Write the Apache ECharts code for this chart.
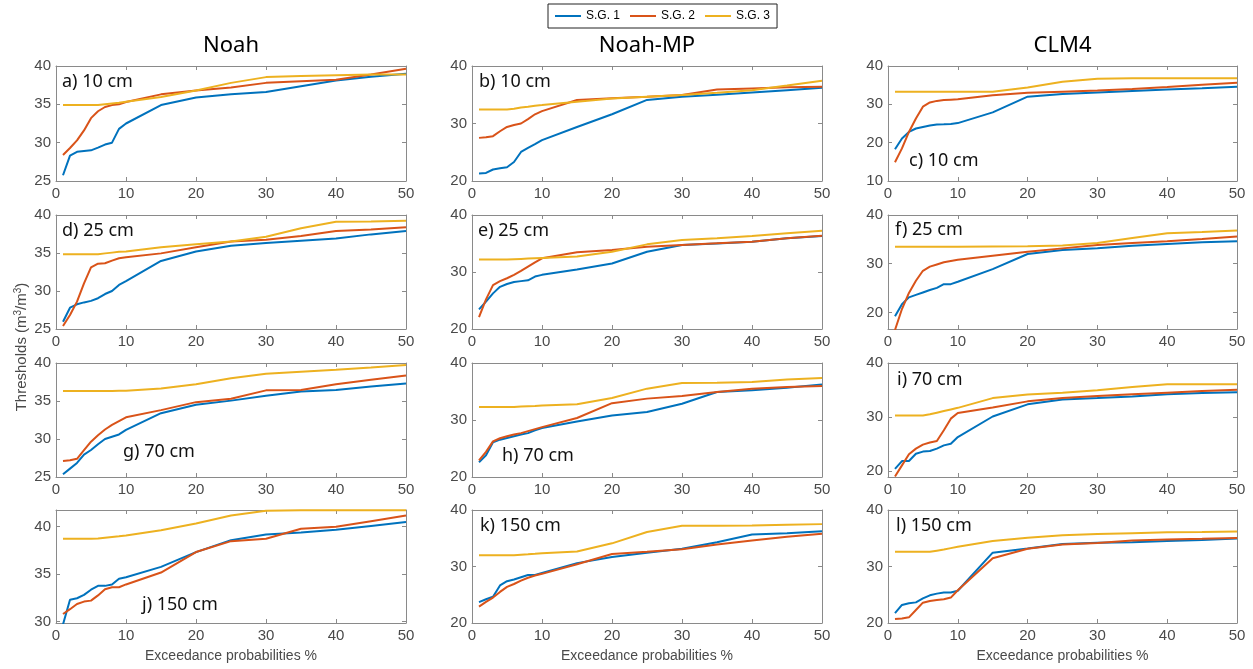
<!DOCTYPE html>
<html><head><meta charset="utf-8">
<script src="https://cdn.jsdelivr.net/npm/echarts@6/dist/echarts.min.js"></script>
<style>html,body{margin:0;padding:0;background:#fff}#c{width:1253px;height:669px}</style>
</head><body><div id="c"></div>
<script>
const xs = [1,2,3,4,5,6,7,8,9,10,15,20,25,30,35,40,45,50];
const seriesNames = ['S.G. 1','S.G. 2','S.G. 3'];
const models = ['Noah','Noah-MP','CLM4'];
const panelLabels = ['a) 10 cm','b) 10 cm','c) 10 cm','d) 25 cm','e) 25 cm','f) 25 cm','g) 70 cm','h) 70 cm','i) 70 cm','j) 150 cm','k) 150 cm','l) 150 cm'];
const xTicks = [0,10,20,30,40,50];
const yMins = [25,20,10, 25,20,16.6, 25,20,18.9, 29.85,20,20];
const yMaxs = [40,40,40, 40,40,40, 40,40,40, 41.72,40,40];
const yTicks = [[25,30,35,40],[20,30,40],[10,20,30,40],[25,30,35,40],[20,30,40],[20,30,40],[25,30,35,40],[20,30,40],[20,30,40],[30,35,40],[20,30,40],[20,30,40]];

// a) Noah 10 cm
const a_sg1 = [25.75,28.3,28.8,28.9,29.0,29.35,29.75,30.0,31.8,32.5,34.9,35.9,36.3,36.6,37.35,38.1,38.6,39.0];
const a_sg2 = [28.4,29.3,30.3,31.6,33.2,34.1,34.65,34.9,35.0,35.3,36.3,36.8,37.2,37.8,38.0,38.2,38.9,39.65];
const a_sg3 = [34.9,34.9,34.9,34.9,34.9,34.9,35.0,35.1,35.2,35.35,35.95,36.8,37.8,38.55,38.7,38.8,38.9,38.9];
// b) Noah-MP 10 cm
const b_sg1 = [21.3,21.4,22.0,22.2,22.4,23.3,25.05,25.75,26.4,27.1,29.4,31.6,34.1,34.65,35.0,35.4,35.8,36.2];
const b_sg2 = [27.5,27.6,27.8,28.65,29.4,29.75,30.0,30.75,31.6,32.15,34.1,34.4,34.65,34.95,35.9,36.1,36.3,36.4];
const b_sg3 = [32.45,32.45,32.45,32.45,32.45,32.55,32.8,32.9,33.1,33.2,33.8,34.35,34.65,34.95,35.35,35.8,36.6,37.45];
// c) CLM4 10 cm
const c_sg1 = [18.3,21.1,22.8,23.7,24.1,24.5,24.75,24.8,24.9,25.1,27.9,32.0,32.7,33.1,33.5,33.9,34.2,34.6];
const c_sg2 = [14.9,18.5,22.8,26.3,29.4,30.5,30.9,31.1,31.2,31.3,32.4,33.0,33.3,33.6,34.0,34.5,35.1,35.6];
const c_sg3 = [33.3,33.3,33.3,33.3,33.3,33.3,33.3,33.3,33.3,33.3,33.3,34.4,35.9,36.7,36.8,36.8,36.8,36.8];
// d) Noah 25 cm
const d_sg1 = [25.96,27.8,28.25,28.5,28.7,29.05,29.6,30.0,30.8,31.3,33.95,35.2,35.95,36.3,36.6,36.9,37.45,37.9];
const d_sg2 = [25.4,26.85,28.6,31.0,33.1,33.6,33.65,34.0,34.3,34.45,34.95,35.75,36.5,36.75,37.25,37.9,38.1,38.4];
const d_sg3 = [34.85,34.85,34.85,34.85,34.85,34.85,34.95,35.05,35.15,35.2,35.75,36.15,36.5,37.15,38.25,39.1,39.15,39.25];
// e) Noah-MP 25 cm
const e_sg1 = [23.45,24.8,26.25,27.4,27.9,28.25,28.4,28.55,29.2,29.5,30.45,31.5,33.55,34.75,35.0,35.3,35.9,36.3];
const e_sg2 = [22.1,25.2,27.7,28.4,28.9,29.5,30.2,30.95,31.7,32.4,33.45,33.85,34.45,34.75,35.05,35.3,35.9,36.35];
const e_sg3 = [32.2,32.2,32.2,32.2,32.2,32.25,32.3,32.35,32.4,32.45,32.7,33.55,34.85,35.6,35.9,36.3,36.8,37.25];
// f) CLM4 25 cm
const f_sg1 = [19.2,21.7,23.1,23.6,24.1,24.6,25.05,25.8,25.8,26.3,28.9,32.0,32.8,33.15,33.7,34.05,34.4,34.6];
const f_sg2 = [16.4,20.7,24.0,26.5,28.55,29.4,29.85,30.3,30.55,30.8,31.65,32.45,33.15,33.85,34.25,34.6,35.05,35.6];
const f_sg3 = [33.5,33.5,33.5,33.5,33.5,33.5,33.5,33.5,33.5,33.5,33.55,33.6,33.75,34.25,35.3,36.25,36.5,36.8];
// g) Noah 70 cm
const g_sg1 = [25.35,26.1,26.85,27.95,28.55,29.3,30.0,30.3,30.6,31.2,33.4,34.5,35.05,35.7,36.25,36.45,36.9,37.3];
const g_sg2 = [27.1,27.2,27.4,28.55,29.65,30.5,31.25,31.85,32.35,32.85,33.8,34.85,35.3,36.4,36.45,37.2,37.8,38.35];
const g_sg3 = [36.3,36.3,36.3,36.3,36.3,36.3,36.3,36.32,36.34,36.36,36.65,37.2,38.0,38.6,38.85,39.1,39.4,39.75];
// h) Noah-MP 70 cm
const h_sg1 = [22.6,23.8,26.1,26.55,26.85,27.15,27.45,27.7,28.2,28.6,29.75,30.8,31.4,32.85,34.9,35.2,35.65,36.25];
const h_sg2 = [22.9,24.4,26.25,26.8,27.15,27.45,27.7,28.05,28.4,28.75,30.35,32.95,33.75,34.2,34.9,35.5,35.8,35.95];
const h_sg3 = [32.3,32.3,32.3,32.3,32.3,32.3,32.35,32.4,32.45,32.55,32.75,33.85,35.5,36.5,36.55,36.65,37.1,37.35];
// i) CLM4 70 cm
const i_sg1 = [20.4,21.85,21.85,23.2,23.6,23.7,24.15,24.75,25.05,26.3,30.1,32.35,33.25,33.5,33.8,34.2,34.45,34.6];
const i_sg2 = [19.0,21.05,23.1,24.15,24.9,25.3,25.55,27.55,29.7,30.75,31.75,32.9,33.5,33.9,34.2,34.5,34.8,35.05];
const i_sg3 = [30.3,30.3,30.3,30.3,30.3,30.5,30.8,31.1,31.4,31.7,33.5,34.15,34.5,34.95,35.55,36.05,36.05,36.05];
// j) Noah 150 cm
const j_sg1 = [29.7,32.3,32.45,32.8,33.35,33.75,33.75,33.9,34.5,34.65,35.75,37.3,38.55,39.15,39.35,39.65,40.05,40.45];
const j_sg2 = [30.8,31.3,31.85,32.1,32.2,32.75,33.4,33.6,33.6,33.9,35.15,37.3,38.45,38.7,39.75,39.95,40.55,41.15];
const j_sg3 = [38.7,38.7,38.7,38.7,38.7,38.72,38.8,38.88,38.96,39.05,39.6,40.3,41.15,41.65,41.7,41.7,41.7,41.7];
// k) Noah-MP 150 cm
const k_sg1 = [23.7,24.2,24.65,26.65,27.4,27.7,28.1,28.5,28.5,28.85,30.6,31.7,32.45,33.15,34.3,35.65,35.9,36.25];
const k_sg2 = [22.9,23.75,24.5,25.5,26.4,26.9,27.5,28.0,28.4,28.7,30.4,32.2,32.6,33.05,33.9,34.6,35.25,35.8];
const k_sg3 = [32.0,32.0,32.0,32.0,32.0,32.0,32.08,32.16,32.25,32.35,32.65,34.1,36.1,37.2,37.2,37.25,37.4,37.5];
// l) CLM4 150 cm
const l_sg1 = [21.75,23.2,23.5,23.65,24.35,24.9,25.2,25.4,25.4,25.7,32.45,33.2,34.0,34.2,34.3,34.5,34.7,34.95];
const l_sg2 = [20.7,20.8,21.0,22.3,23.6,23.9,24.05,24.2,24.5,25.8,31.45,33.15,33.9,34.15,34.6,34.8,34.9,35.05];
const l_sg3 = [32.6,32.6,32.6,32.6,32.6,32.6,32.8,33.0,33.25,33.5,34.5,35.1,35.55,35.75,35.9,36.05,36.1,36.2];

const panels = [
  [a_sg1,a_sg2,a_sg3],[b_sg1,b_sg2,b_sg3],[c_sg1,c_sg2,c_sg3],
  [d_sg1,d_sg2,d_sg3],[e_sg1,e_sg2,e_sg3],[f_sg1,f_sg2,f_sg3],
  [g_sg1,g_sg2,g_sg3],[h_sg1,h_sg2,h_sg3],[i_sg1,i_sg2,i_sg3],
  [j_sg1,j_sg2,j_sg3],[k_sg1,k_sg2,k_sg3],[l_sg1,l_sg2,l_sg3]
];

// layout (styles)
const colors = ['#0072BD','#D95319','#EDB120'];
const colLeft = [56, 472, 888];
const colWidth = [350, 350, 349];
const rowTop = [66, 215, 363, 510];
const rowHeight = [115, 114, 114, 113];
const labelPos = [[62,73],[479,73],[909,152],[62,222],[478,222],[895,221],[123,443],[502,447],[897,371],[142,596],[480,517],[896,517]];
const axisColor = '#8a8a8a';
const labelColor = '#4a4a4a';

const grid = [], xAxis = [], yAxis = [], series = [], graphic = [];
panels.forEach((p, i) => {
  const r = Math.floor(i / 3), c = i % 3;
  grid.push({left: colLeft[c], top: rowTop[r], width: colWidth[c], height: rowHeight[r], containLabel: false});
  const common = {type: 'value', gridIndex: i, splitLine: {show: false},
    axisLine: {show: true, onZero: false, lineStyle: {color: axisColor, width: 1}}};
  xAxis.push(Object.assign({}, common, {position: 'bottom', min: 0, max: 50, interval: 10,
    axisTick: {show: true, inside: true, length: 4, lineStyle: {color: axisColor}},
    axisLabel: {show: true, color: labelColor, fontSize: 15, fontFamily: 'Liberation Sans, Arial', margin: 5}}));
  xAxis.push(Object.assign({}, common, {position: 'top', min: 0, max: 50, interval: 10,
    axisTick: {show: true, inside: true, length: 4, lineStyle: {color: axisColor}},
    axisLabel: {show: false}}));
  yAxis.push(Object.assign({}, common, {position: 'left', min: yMins[i], max: yMaxs[i],
    axisTick: {show: true, inside: true, length: 4, customValues: yTicks[i], lineStyle: {color: axisColor}},
    axisLabel: {show: true, customValues: yTicks[i], color: labelColor, fontSize: 15, fontFamily: 'Liberation Sans, Arial', margin: 5, showMinLabel: true, showMaxLabel: true}}));
  yAxis.push(Object.assign({}, common, {position: 'right', min: yMins[i], max: yMaxs[i],
    axisTick: {show: true, inside: true, length: 4, customValues: yTicks[i], lineStyle: {color: axisColor}},
    axisLabel: {show: false}}));
  p.forEach((vals, k) => {
    series.push({type: 'line', name: seriesNames[k], xAxisIndex: 2*i, yAxisIndex: 2*i,
      data: xs.map((x, j) => [x, vals[j]]), showSymbol: false, symbol: 'none', clip: true,
      lineStyle: {color: colors[k], width: 2}, itemStyle: {color: colors[k]}, z: 3 + k});
  });
  graphic.push({type: 'text', left: labelPos[i][0], top: labelPos[i][1],
    style: {text: panelLabels[i], font: '18px "Noto Sans", "Open Sans", sans-serif', fill: '#111'}});
});

models.forEach((m, c) => {
  graphic.push({type: 'text', x: colLeft[c] + colWidth[c] / 2, y: 46,
    style: {text: m, font: '22px "Noto Sans", "Open Sans", sans-serif', fill: '#000', align: 'center', verticalAlign: 'middle'}});
  graphic.push({type: 'text', x: colLeft[c] + colWidth[c] / 2, y: 656,
    style: {text: 'Exceedance probabilities %', font: '14px "Liberation Sans", Arial, sans-serif', fill: labelColor, align: 'center', verticalAlign: 'middle'}});
});

graphic.push({type: 'text', x: 22, y: 347, rotation: Math.PI / 2,
  style: {text: 'Thresholds (m{s|3}/m{s|3})', fill: labelColor, align: 'center', verticalAlign: 'middle',
    font: '15px "Liberation Sans", Arial, sans-serif',
    rich: {s: {fontSize: 10, verticalAlign: 'top', padding: [0,0,7,0], fill: labelColor, fontFamily: 'Liberation Sans'}}}});

const chart = echarts.init(document.getElementById('c'), null, {renderer: 'canvas'});
chart.setOption({
  animation: false,
  backgroundColor: '#fff',
  legend: {data: seriesNames, top: 4, left: 548, orient: 'horizontal',
    borderColor: '#222', borderWidth: 1, padding: [6, 7], itemGap: 10, itemWidth: 26, itemHeight: 2,
    icon: 'rect', textStyle: {fontSize: 12, color: '#000', fontFamily: 'Liberation Sans Narrow, Liberation Sans, Arial'}},
  grid, xAxis, yAxis, series, graphic
});
</script></body></html>
